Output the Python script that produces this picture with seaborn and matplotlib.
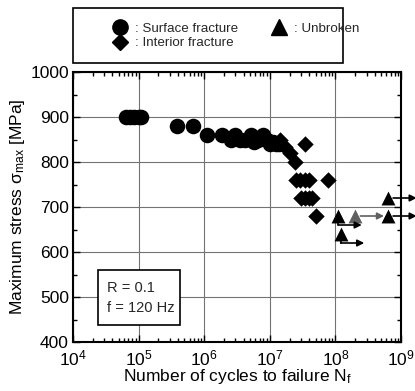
import numpy as np
import pandas as pd
import matplotlib
matplotlib.use('Agg')
import matplotlib.pyplot as plt
import seaborn as sns
from matplotlib.patches import Rectangle
from matplotlib.lines import Line2D
from matplotlib.ticker import LogLocator, MultipleLocator, NullFormatter

# --- data ---
surface_N = [6.5e4, 7.5e4, 8.5e4, 1.0e5, 1.1e5,
             3.8e5, 6.7e5, 1.1e6, 1.9e6,
             2.6e6, 3.0e6, 3.5e6, 4.2e6, 5.2e6, 5.8e6, 6.5e6,
             8.0e6, 9.0e6, 1.0e7, 1.1e7, 1.25e7, 1.4e7]
surface_S = [900, 900, 900, 900, 900,
             880, 880, 860, 860,
             850, 860, 850, 850, 860, 845, 850,
             860, 850, 840, 845, 840, 840]

interior_N = [1.45e7, 1.7e7, 2.0e7, 2.45e7, 3.5e7,
              2.5e7, 2.9e7, 3.4e7, 4.0e7, 7.8e7,
              3.0e7, 3.4e7, 3.9e7, 4.4e7, 5.0e7]
interior_S = [848, 833, 820, 800, 840,
              760, 760, 760, 760, 760,
              720, 720, 720, 720, 680]

unbroken_N = [1.1e8, 1.2e8, 2.0e8, 6.3e8, 6.3e8]
unbroken_S = [680, 640, 680, 720, 680]
unbroken_drop = [20, 20, 0, 0, 0]          # runout arrow offset below marker (MPa)
unbroken_color = ['black', 'black', '#606060', 'black', 'black']

conditions = "R = 0.1\nf = 120 Hz"

sns.set_theme(style='ticks')
plt.rcParams['font.family'] = ['Liberation Sans', 'DejaVu Sans']
plt.rcParams['mathtext.fontset'] = 'custom'
plt.rcParams['mathtext.rm'] = 'Liberation Sans'
plt.rcParams['mathtext.it'] = 'Liberation Sans:italic'

fig = plt.figure(figsize=(4.15, 3.91), dpi=100)
ax = fig.add_axes([73 / 415, 49 / 391, 328 / 415, 270 / 391])

df_s = pd.DataFrame({'N': surface_N, 'S': surface_S})
df_i = pd.DataFrame({'N': interior_N, 'S': interior_S})
df_u = pd.DataFrame({'N': unbroken_N, 'S': unbroken_S, 'c': unbroken_color})

sns.scatterplot(data=df_s, x='N', y='S', marker='o', s=125, color='black',
                edgecolor='black', linewidth=0, ax=ax, zorder=4)
sns.scatterplot(data=df_i, x='N', y='S', marker='D', s=70, color='black',
                edgecolor='black', linewidth=0, ax=ax, zorder=4)
for _, r in df_u.iterrows():
    sns.scatterplot(x=[r['N']], y=[r['S']], marker='^', s=100, color=r['c'],
                    edgecolor=r['c'], linewidth=0, ax=ax, zorder=4)

# runout arrows
for n, s, d, c in zip(unbroken_N, unbroken_S, unbroken_drop, unbroken_color):
    y0 = s - d
    if d > 0:
        ax.plot([n, n], [s, y0], color=c, lw=1.2, zorder=3)
        x0 = n
    else:
        x0 = n * 10 ** 0.08
    ax.annotate('', xy=(x0 * 10 ** 0.36, y0), xytext=(x0, y0),
                xycoords='data', textcoords='data', annotation_clip=False,
                arrowprops=dict(arrowstyle='-|>', color=c, lw=1.2,
                                mutation_scale=10, shrinkA=0, shrinkB=0),
                zorder=5)

ax.set_xscale('log')
ax.set_xlim(1e4, 1e9)
ax.set_ylim(400, 1000)
ax.xaxis.set_major_locator(LogLocator(base=10, numticks=10))
ax.xaxis.set_minor_locator(LogLocator(base=10, subs=np.arange(2, 10), numticks=20))
ax.xaxis.set_minor_formatter(NullFormatter())
ax.yaxis.set_major_locator(MultipleLocator(100))
ax.yaxis.set_minor_locator(MultipleLocator(50))

ax.grid(True, which='major', color='0.45', lw=0.8)
ax.set_axisbelow(True)
for sp in ax.spines.values():
    sp.set_color('black')
    sp.set_linewidth(1.5)
ax.tick_params(which='both', direction='in', top=True, right=True,
               color='black', width=1.0)
ax.tick_params(which='major', length=5, labelsize=12.5, pad=3, labelcolor='black')
ax.tick_params(axis='x', which='major', pad=5)
ax.tick_params(which='minor', length=3)

ax.set_xlabel('Number of cycles to failure N$_\\mathregular{f}$', fontsize=12.5,
              color='black', labelpad=-1)
ax.set_ylabel('Maximum stress σ$_\\mathregular{max}$ [MPa]', fontsize=12.5,
              color='black', labelpad=2)

# conditions box
ax.add_patch(Rectangle((25 / 328, 17 / 270), 82 / 328, 55 / 270,
                       transform=ax.transAxes, facecolor='white',
                       edgecolor='black', lw=1.2, zorder=6))
ax.text(34 / 328, 44 / 270, conditions, transform=ax.transAxes,
        fontsize=10.5, va='center', ha='left', linespacing=1.5, zorder=7)

# legend box at top
fig.patches.append(Rectangle((73 / 415, 1 - 63 / 391), 270 / 415, 55 / 391,
                             transform=fig.transFigure, facecolor='white',
                             edgecolor='black', lw=1.2))
handles = [Line2D([], [], ls='', marker='o', ms=11, color='black'),
           Line2D([], [], ls='', marker='D', ms=8, color='black'),
           Line2D([], [], ls='', marker='^', ms=11, color='black')]
labels = [': Surface fracture', ': Interior fracture', ': Unbroken']
fig.legend(handles, labels, ncol=2, loc='upper left',
           bbox_to_anchor=(107 / 415, 1 - 16 / 391), frameon=False,
           fontsize=9.6, handlelength=1.0, handletextpad=0.6,
           columnspacing=2.6, labelspacing=0.15, borderpad=0)

fig.savefig('out.png', dpi=100)
